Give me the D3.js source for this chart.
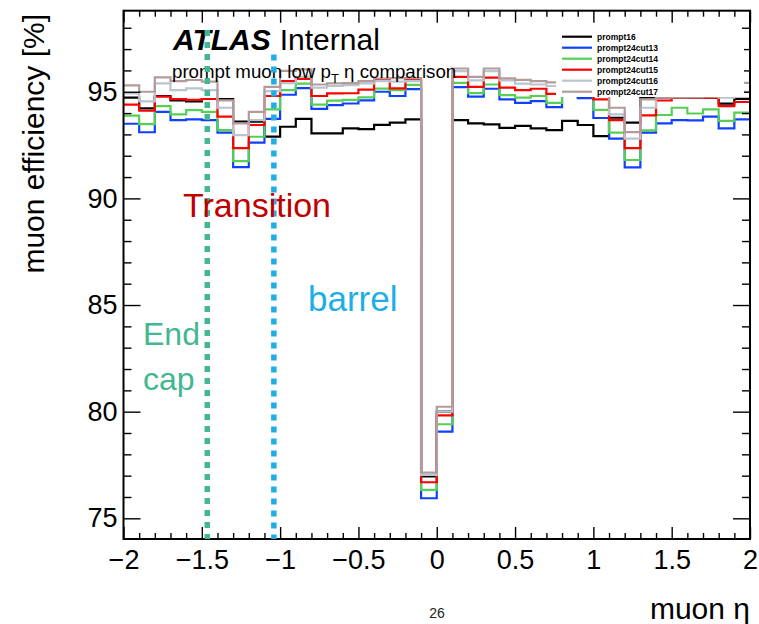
<!DOCTYPE html>
<html><head><meta charset="utf-8">
<script src="https://cdn.jsdelivr.net/npm/d3@7"></script>
<style>
body{margin:0;background:#fff;}
svg{display:block;font-family:"Liberation Sans",Arial,Helvetica,sans-serif;}
</style>
</head><body>
<svg id="c" width="759" height="624"></svg>
<script>
// ---------- data ----------
const binEdges = [-2,-1.9,-1.8,-1.7,-1.6,-1.5,-1.4,-1.3,-1.2,-1.1,-1,-0.9,-0.8,-0.7,-0.6,-0.5,-0.4,-0.3,-0.2,-0.1,0,
                  0.1,0.2,0.3,0.4,0.5,0.6,0.7,0.8,0.9,1,1.1,1.2,1.3,1.4,1.5,1.6,1.7,1.8,1.9,2];
const seriesNames = ["prompt16","prompt24cut13","prompt24cut14","prompt24cut15","prompt24cut16","prompt24cut17"];
const seriesColors = ["#000000","#1040ff","#55d055","#ff0000","#b8c4cf","#b39b9b"];

const prompt16 = [94.72,94.22,94.80,94.60,94.55,94.66,94.66,93.60,93.60,92.90,
                  93.36,93.73,93.05,93.05,93.28,93.25,93.45,93.55,93.70,76.97,
                  80.00,93.67,93.52,93.47,93.31,93.40,93.28,93.20,93.63,93.44,
                  92.92,93.78,93.55,94.72,94.72,94.72,94.72,94.72,94.44,94.67];
const prompt24cut13 = [93.50,93.10,94.06,93.67,93.70,93.67,93.08,91.47,92.61,93.73,
                  94.86,95.17,94.20,94.37,94.45,94.60,95.00,94.80,95.12,75.94,
                  79.06,95.22,94.77,95.14,94.64,94.48,94.56,94.28,94.90,94.70,
                  93.77,92.80,91.45,93.08,93.52,93.67,93.66,93.83,93.28,93.70];
const prompt24cut14 = [93.88,93.48,94.33,93.94,94.14,94.06,93.20,91.75,92.89,94.17,
                  95.08,95.38,94.40,94.58,94.62,94.74,95.15,95.08,95.32,76.33,
                  79.41,95.42,94.94,95.34,94.84,94.72,94.80,94.48,95.10,94.90,
                  94.15,93.08,91.80,93.19,93.91,94.25,93.98,94.17,93.63,94.02];
const prompt24cut15 = [94.40,94.11,94.77,94.65,94.62,94.66,93.83,92.36,93.44,94.80,
                  95.50,95.60,94.80,94.92,94.93,95.10,95.55,95.16,95.55,76.69,
                  79.83,95.70,95.23,95.66,95.19,95.08,95.14,94.90,95.30,95.05,
                  94.64,93.67,92.36,93.89,94.59,94.72,94.72,94.72,94.33,94.52];
const prompt24cut16 = [94.92,94.55,95.39,95.08,95.16,95.08,94.25,92.97,93.67,95.03,
                  95.40,95.70,95.19,95.27,95.31,95.39,95.50,95.47,95.50,77.03,
                  80.00,95.97,95.53,95.97,95.53,95.38,95.34,95.27,95.45,95.20,
                  94.90,93.94,92.80,94.25,94.75,94.75,94.75,94.78,94.72,95.00];
const prompt24cut17 = [95.30,95.00,95.67,95.50,95.55,95.47,94.60,93.52,94.06,95.23,
                  95.98,96.05,95.34,95.39,95.40,95.50,95.62,95.64,95.64,77.14,
                  80.23,96.09,95.70,96.09,95.63,95.56,95.50,95.44,95.60,95.30,
                  95.00,94.25,93.11,94.64,94.72,94.75,94.76,94.78,95.19,95.42];
const allSeries = [prompt16,prompt24cut13,prompt24cut14,prompt24cut15,prompt24cut16,prompt24cut17];

const xMajorTicks = [-2,-1.5,-1,-0.5,0,0.5,1,1.5,2];
const xTickLabels = ["\u22122","\u22121.5","\u22121","\u22120.5","0","0.5","1","1.5","2"];
const yMajorTicks = [75,80,85,90,95];
const yTickLabels = ["75","80","85","90","95"];
const regionLines = [{eta:-1.465, color:"#43b692", top:97.9}, {eta:-1.04, color:"#1eaee6", top:96.75}];

// ---------- layout ----------
const svg = d3.select("#c");
const L = 123.5, R = 750, T = 10.7, B = 539;
const x = d3.scaleLinear().domain([-2,2]).range([L,R]);
const y = d3.scaleLinear().domain([74.03,98.8]).range([B,T]);

svg.append("rect").attr("width",759).attr("height",624).attr("fill","#fff");

svg.append("defs").append("clipPath").attr("id","clip")
  .append("rect").attr("x",L).attr("y",T).attr("width",R-L).attr("height",B-T);

// histograms
const line = d3.line().x(d=>x(d[0])).y(d=>y(d[1])).curve(d3.curveStepAfter);
const hg = svg.append("g").attr("clip-path","url(#clip)");
allSeries.forEach((vals,k)=>{
  const pts = vals.map((v,i)=>[binEdges[i],v]);
  pts.push([binEdges[binEdges.length-1], vals[vals.length-1]]);
  hg.append("path").attr("d",line(pts)).attr("fill","none")
    .attr("stroke",seriesColors[k]).attr("stroke-width",2.2);
});

// axes
function styleAxis(g){
  g.select(".domain").remove();
  g.selectAll(".tick line").attr("stroke","#000").attr("stroke-width",1.4);
  g.selectAll(".tick text").attr("fill","#000").style("font-size","27px")
   .style("font-family","'Liberation Sans',Arial,sans-serif");
}
const xMinor = d3.range(-19,20).map(i=>i/10).filter(v=>Math.abs(v*2-Math.round(v*2))>1e-6);
const yMinor = d3.range(75,99).filter(v=>v%5!==0);

svg.append("g").attr("transform",`translate(0,${B})`)
  .call(d3.axisBottom(x).tickValues(xMajorTicks).tickFormat((d,i)=>xTickLabels[i])
        .tickSizeInner(-12).tickSizeOuter(0).tickPadding(11)).call(styleAxis);
svg.append("g").attr("transform",`translate(0,${B})`)
  .call(d3.axisBottom(x).tickValues(xMinor).tickFormat("").tickSizeInner(-6).tickSizeOuter(0)).call(styleAxis);
svg.append("g").attr("transform",`translate(0,${T})`)
  .call(d3.axisTop(x).tickValues(xMajorTicks).tickFormat("").tickSizeInner(-12).tickSizeOuter(0)).call(styleAxis);
svg.append("g").attr("transform",`translate(0,${T})`)
  .call(d3.axisTop(x).tickValues(xMinor).tickFormat("").tickSizeInner(-6).tickSizeOuter(0)).call(styleAxis);

svg.append("g").attr("transform",`translate(${L},0)`)
  .call(d3.axisLeft(y).tickValues(yMajorTicks).tickFormat((d,i)=>yTickLabels[i])
        .tickSizeInner(-17).tickSizeOuter(0).tickPadding(6)).call(styleAxis);
svg.append("g").attr("transform",`translate(${L},0)`)
  .call(d3.axisLeft(y).tickValues(yMinor).tickFormat("").tickSizeInner(-8).tickSizeOuter(0)).call(styleAxis);
svg.append("g").attr("transform",`translate(${R},0)`)
  .call(d3.axisRight(y).tickValues(yMajorTicks).tickFormat("").tickSizeInner(-17).tickSizeOuter(0)).call(styleAxis);
svg.append("g").attr("transform",`translate(${R},0)`)
  .call(d3.axisRight(y).tickValues(yMinor).tickFormat("").tickSizeInner(-8).tickSizeOuter(0)).call(styleAxis);

// frame
svg.append("rect").attr("x",L).attr("y",T).attr("width",R-L).attr("height",B-T)
  .attr("fill","none").attr("stroke","#000").attr("stroke-width",2);

// axis titles
svg.append("text").attr("transform",`translate(44,14) rotate(-90)`).attr("text-anchor","end")
  .style("font-size","30px").attr("fill","#000").text("muon efficiency [%]");
svg.append("text").attr("x",750).attr("y",619).attr("text-anchor","end")
  .style("font-size","30px").attr("fill","#000").text("muon \u03b7");
svg.append("text").attr("x",437).attr("y",618).attr("text-anchor","middle")
  .style("font-size","14px").attr("fill","#222").text("26");

// legend (white box)
const lg = svg.append("g");
lg.append("rect").attr("x",556).attr("y",30).attr("width",188).attr("height",67).attr("fill","#fff");
seriesNames.forEach((n,k)=>{
  const yy = 36.7 + k*11;
  lg.append("line").attr("x1",562).attr("x2",592).attr("y1",yy).attr("y2",yy)
    .attr("stroke",seriesColors[k]).attr("stroke-width",2.2);
  lg.append("text").attr("x",597).attr("y",yy).attr("dy","0.35em")
    .style("font-size","8.5px").style("font-weight","bold").attr("fill","#000").text(n);
});

// ATLAS label
const at = svg.append("text").attr("x",173).attr("y",50).style("font-size","30px");
at.append("tspan").style("font-weight","bold").style("font-style","italic").text("ATLAS");
at.append("tspan").attr("dx","9").text("Internal");
const sub = svg.append("text").attr("x",172).attr("y",78).style("font-size","18.7px").attr("fill","#000");
sub.append("tspan").text("prompt muon low p");
sub.append("tspan").attr("dy","5").style("font-size","13px").text("T");
sub.append("tspan").attr("dy","-5").text(" \u03b7 comparison");

// region lines
regionLines.forEach(r=>{
  svg.append("line").attr("x1",x(r.eta)).attr("x2",x(r.eta)).attr("y1",y(r.top)).attr("y2",B)
    .attr("stroke",r.color).attr("stroke-width",5.5).attr("stroke-dasharray","6 6");
});

// annotations
svg.append("text").attr("x",183).attr("y",217).style("font-size","34px").attr("fill","#c00000").text("Transition");
svg.append("text").attr("x",308).attr("y",311).style("font-size","35px").attr("fill","#1eaee6").text("barrel");
svg.append("text").attr("x",143).attr("y",345).style("font-size","32px").attr("fill","#43b692").text("End");
svg.append("text").attr("x",143).attr("y",390).style("font-size","32px").attr("fill","#43b692").text("cap");
</script>
</body></html>
